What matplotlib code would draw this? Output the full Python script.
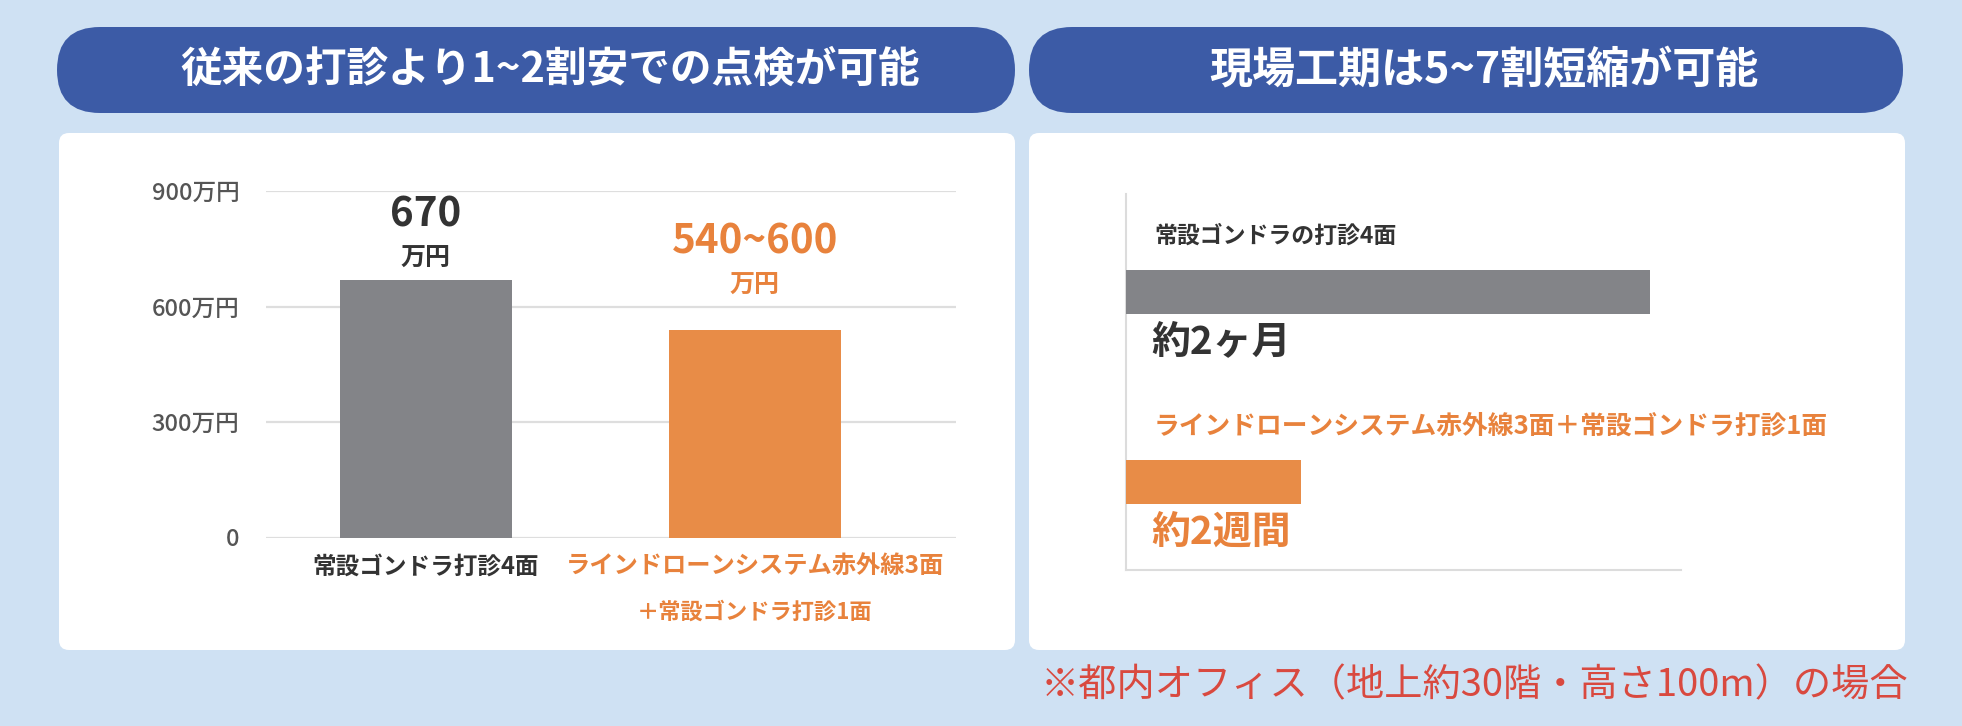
import matplotlib
matplotlib.use("Agg")
import matplotlib.pyplot as plt
from matplotlib.patches import FancyBboxPatch

plt.rcParams['font.family'] = ['Noto Sans CJK JP', 'DejaVu Sans']

# ---------------- data ----------------
left_title = "従来の打診より1~2割安での点検が可能"
right_title = "現場工期は5~7割短縮が可能"
footnote = "※都内オフィス（地上約30階・高さ100m）の場合"

cost_categories = ["常設ゴンドラ打診4面", "ラインドローンシステム赤外線3面"]
cost_category_line2 = ["", "＋常設ゴンドラ打診1面"]
cost_low = [670, 540]
cost_high = [670, 600]
cost_value_text = ["670", "540~600"]
cost_unit_text = ["万円", "万円"]
cost_ticks = [0, 300, 600, 900]
cost_tick_labels = ["0", "300万円", "600万円", "900万円"]

duration_categories = ["常設ゴンドラの打診4面", "ラインドローンシステム赤外線3面＋常設ゴンドラ打診1面"]
duration_days = [60, 20]
duration_text = ["約2ヶ月", "約2週間"]

# ---------------- style ----------------
W, H = 1962, 726
BG = "#cfe1f3"
BLUE = "#3c5ba6"
GRAY = "#838488"
ORANGE = "#e88c47"
ORANGE_TXT = "#e8823c"
DARK = "#333333"
RED = "#d9493f"

fig = plt.figure(figsize=(W / 100, H / 100), dpi=100)
fig.patch.set_facecolor(BG)

bgax = fig.add_axes([0, 0, 1, 1])
bgax.set_xlim(0, W)
bgax.set_ylim(H, 0)
bgax.axis("off")


def rbox(x0, y0, x1, y1, r, color):
    p = FancyBboxPatch((x0 + r, y0 + r), (x1 - x0) - 2 * r, (y1 - y0) - 2 * r,
                       boxstyle=f"round,pad={r}", fc=color, ec="none")
    bgax.add_patch(p)


# header pills
rbox(57, 27, 1015, 113, 43, BLUE)
rbox(1029, 27, 1903, 113, 43, BLUE)
bgax.text((57 + 1015) / 2 + 14, 70, left_title, color="white", fontsize=30,
          fontweight="bold", ha="center", va="center")
bgax.text((1029 + 1903) / 2 + 18, 70, right_title, color="white", fontsize=31,
          fontweight="bold", ha="center", va="center")
# white panels
rbox(59, 133, 1015, 650, 10, "white")
rbox(1029, 133, 1905, 650, 10, "white")
# footnote
bgax.text(1908, 686, footnote, color=RED, fontsize=27.5, ha="right", va="center")


def fx(px):
    return px / W


def fy(py):
    return 1 - py / H


# ---------------- left chart ----------------
lx0, lx1 = 266, 956
ly_top, ly_bot = 191, 537.5
ax = fig.add_axes([fx(lx0), fy(ly_bot), fx(lx1) - fx(lx0), (ly_bot - ly_top) / H])
ax.set_facecolor("none")
xs = list(range(len(cost_categories)))
ax.bar(xs, cost_low, width=0.523, color=[GRAY, ORANGE], zorder=3)
ax.set_xlim(-0.486, 1.611)
ax.set_ylim(0, 900)
ax.set_yticks(cost_ticks)
ax.set_yticklabels(cost_tick_labels, fontsize=17, color="#555555", fontweight="medium")
ax.tick_params(axis="y", length=0, pad=19)
ax.set_xticks([])
for t in cost_ticks:
    ax.axhline(t, color="#dedede", lw=1.6, zorder=1)
for s in ax.spines.values():
    s.set_visible(False)

txt_colors = [DARK, ORANGE_TXT]
cat_sizes = [17, 17.5]
for i in xs:
    ax.annotate(cost_value_text[i], xy=(i, cost_high[i]), xytext=(0, 65),
                textcoords="offset pixels", ha="center", va="center",
                fontsize=29, fontweight="bold", color=txt_colors[i])
    ax.annotate(cost_unit_text[i], xy=(i, cost_high[i]), xytext=(0, 21),
                textcoords="offset pixels", ha="center", va="center",
                fontsize=18, fontweight="bold", color=txt_colors[i])
    ax.annotate(cost_categories[i], xy=(i, 0), xytext=(0, -29),
                textcoords="offset pixels", ha="center", va="center",
                fontsize=cat_sizes[i], fontweight="bold", color=txt_colors[i])
    if cost_category_line2[i]:
        ax.annotate(cost_category_line2[i], xy=(i, 0), xytext=(0, -75),
                    textcoords="offset pixels", ha="center", va="center",
                    fontsize=16, fontweight="bold", color=txt_colors[i])

# ---------------- right chart ----------------
rx0, rx1 = 1126, 1681
ry_top, ry_bot = 194, 570
ax2 = fig.add_axes([fx(rx0), fy(ry_bot), fx(rx1) - fx(rx0), (ry_bot - ry_top) / H])
ax2.set_facecolor("none")
ys = list(range(len(duration_categories)))
ax2.barh(ys, duration_days, height=0.232, color=[GRAY, ORANGE], zorder=3)
ax2.set_xlim(0, 63.5)
ax2.set_ylim(1.463, -0.516)
ax2.set_xticks([])
ax2.set_yticks([])
for k in ("top", "right"):
    ax2.spines[k].set_visible(False)
for k in ("left", "bottom"):
    ax2.spines[k].set_color("#dcdcdc")
    ax2.spines[k].set_linewidth(1.5)

name_sizes = [16.5, 18.5]
for i in ys:
    ax2.annotate(duration_categories[i], xy=(0, i), xytext=(28, 56),
                 textcoords="offset pixels", ha="left", va="center",
                 fontsize=name_sizes[i], fontweight="bold", color=txt_colors[i])
    ax2.annotate(duration_text[i], xy=(0, i), xytext=(25, -50),
                 textcoords="offset pixels", ha="left", va="center",
                 fontsize=28, fontweight="bold", color=txt_colors[i])

fig.savefig("out.png", dpi=100, facecolor=BG)
